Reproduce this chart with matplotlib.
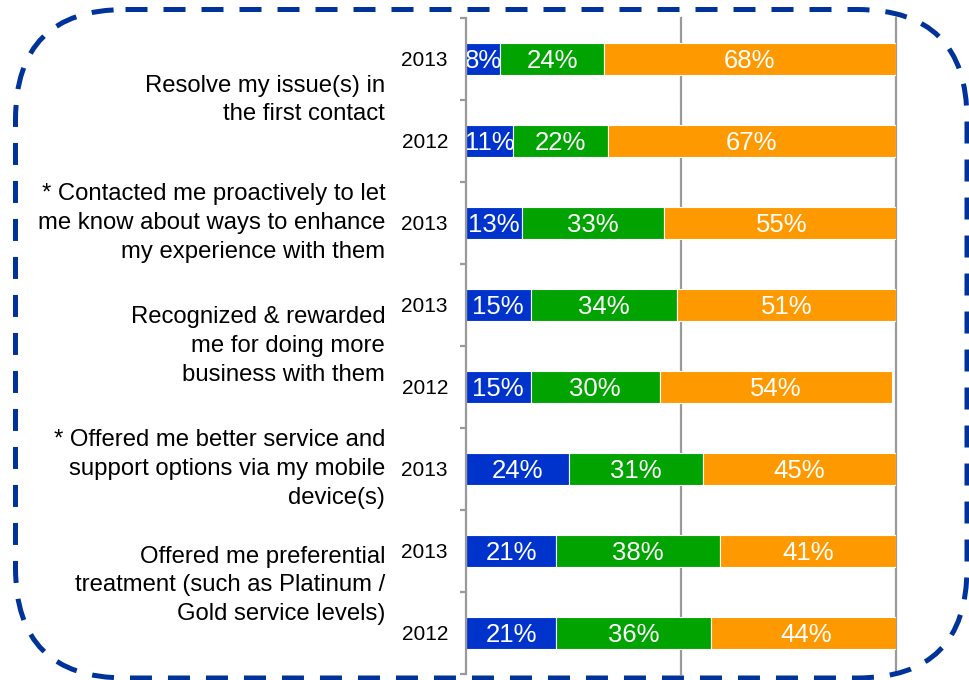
import matplotlib
matplotlib.use("Agg")
import matplotlib.pyplot as plt
from matplotlib.patches import FancyBboxPatch

plt.rcParams['font.family'] = ['Liberation Sans', 'DejaVu Sans']

# Survey items (each spans one or two year rows)
categories = [
    "Resolve my issue(s) in\nthe first contact",
    "* Contacted me proactively to let\nme know about ways to enhance\nmy experience with them",
    "Recognized & rewarded\nme for doing more\nbusiness with them",
    "* Offered me better service and\nsupport options via my mobile\ndevice(s)",
    "Offered me preferential\ntreatment (such as Platinum /\nGold service levels)",
]
category_rows = [[0, 1], [2], [3, 4], [5], [6, 7]]

years = ["2013", "2012", "2013", "2013", "2012", "2013", "2013", "2012"]
low = [8, 11, 13, 15, 15, 24, 21, 21]
mid = [24, 22, 33, 34, 30, 31, 38, 36]
high = [68, 67, 55, 51, 54, 45, 41, 44]

colors = ["#0033cc", "#00a300", "#ff9900"]
grid_gray = "#9a9a9a"

W, H = 969, 680
fig = plt.figure(figsize=(W / 100, H / 100), dpi=100)
ax = fig.add_axes([466 / W, 1 - 674 / H, 430 / W, 656 / H])

rows = list(range(len(years)))
bar_h = 0.4
left = [0] * len(rows)
for series, col in zip([low, mid, high], colors):
    ax.barh(rows, series, left=left, height=bar_h, color=col,
            edgecolor="white", linewidth=0.8, zorder=3)
    for i, v in enumerate(series):
        ax.text(left[i] + v / 2, i + 0.02, f"{v}%", ha="center",
                va="center", color="white", fontsize=18.5, zorder=4)
    left = [l + v for l, v in zip(left, series)]

ax.set_xlim(0, 100)
ax.set_ylim(len(rows) - 0.5, -0.5)

# reference lines at 50% and 100%
for xv in (50, 100):
    ax.axvline(xv, color=grid_gray, lw=1.6, zorder=1, clip_on=False)

for s in ("top", "right", "bottom"):
    ax.spines[s].set_visible(False)
ax.spines["left"].set_color(grid_gray)
ax.spines["left"].set_linewidth(1.6)
ax.spines["left"].set_zorder(5)

ax.set_xticks([])
ax.set_yticks(rows)
ax.set_yticklabels(years, fontsize=15)
ax.tick_params(axis="y", which="major", length=0, pad=13)
ax.set_yticks([r - 0.5 for r in rows] + [len(rows) - 0.5], minor=True)
ax.tick_params(axis="y", which="minor", length=4.5, width=1.6,
               color=grid_gray)

ytrans = ax.get_yaxis_transform()
for text, rws in zip(categories, category_rows):
    yc = sum(rws) / len(rws)
    if len(rws) > 1 and rws[0] > 5:
        yc -= 0.08
    ax.text(-0.188, yc, text, transform=ytrans, ha="right", va="center",
            multialignment="right", fontsize=17.2, linespacing=1.4)

# dashed rounded frame around the whole chart
bax = fig.add_axes([0, 0, 1, 1], zorder=10)
bax.set_xlim(0, W)
bax.set_ylim(H, 0)
bax.axis("off")
bax.patch.set_alpha(0)
frame = FancyBboxPatch((15.5, 9.5), 967 - 15.5, 678 - 9.5,
                       boxstyle="round,pad=0,rounding_size=110",
                       fill=False, edgecolor="#003399", linewidth=3.6,
                       linestyle=(0, (4.4, 3.2)), clip_on=False)
bax.add_patch(frame)

fig.savefig("out.png", dpi=100)
